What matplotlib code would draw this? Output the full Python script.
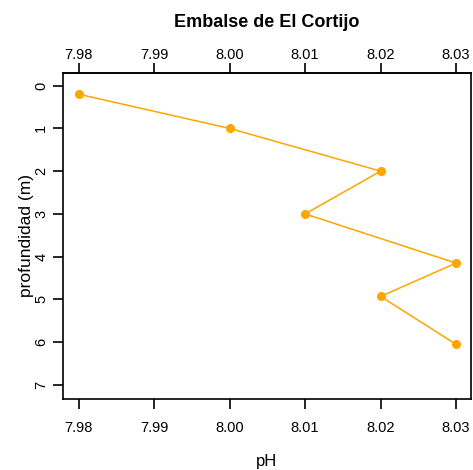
import numpy as np
import matplotlib.pyplot as plt

plt.rcParams['font.family'] = ['Liberation Sans', 'DejaVu Sans']

ph = [7.98, 8.00, 8.02, 8.01, 8.03, 8.02, 8.03]
profundidad = [0.2, 1.0, 2.0, 3.0, 4.15, 4.93, 6.05]
xticks = [7.98, 7.99, 8.00, 8.01, 8.02, 8.03]
yticks = [0, 1, 2, 3, 4, 5, 6, 7]

fig = plt.figure(figsize=(4.73, 4.70), dpi=100)
ax = fig.add_axes([0.133, 0.151, 0.863, 0.694])

ax.plot(ph, profundidad, color='orange', linewidth=1.1, marker='o', markersize=5.5)

ax.set_xlim(7.9779, 8.0320)
ax.set_ylim(7.33, -0.30)
ax.set_xticks(xticks)
ax.set_xticklabels([f"{v:.2f}" for v in xticks])
ax.set_yticks(yticks)
ax.set_yticklabels([str(v) for v in yticks], rotation=90, va='center')

ax.tick_params(axis='x', length=7.5, width=1.2, labelsize=10.5, pad=8)
ax.tick_params(axis='y', length=7.5, width=1.2, labelsize=10.5, pad=3)
for s in ax.spines.values():
    s.set_linewidth(1.2)

# eje superior con su propio espaciado
top = ax.secondary_xaxis('top')
top.set_xticks(xticks)
top.set_xticklabels([f"{v:.2f}" for v in xticks])
top.tick_params(length=7.5, width=1.2, labelsize=10.5, pad=0.5)
top.spines['top'].set_linewidth(1.2)

ax.set_xlabel("pH", fontsize=12, labelpad=14)
ax.set_ylabel("profundidad (m)", fontsize=12.5, labelpad=0.5)
fig.text(0.5645, 0.953, "Embalse de El Cortijo", ha='center', va='center',
         fontsize=13, fontweight='bold')

fig.savefig("out.png", dpi=100)
